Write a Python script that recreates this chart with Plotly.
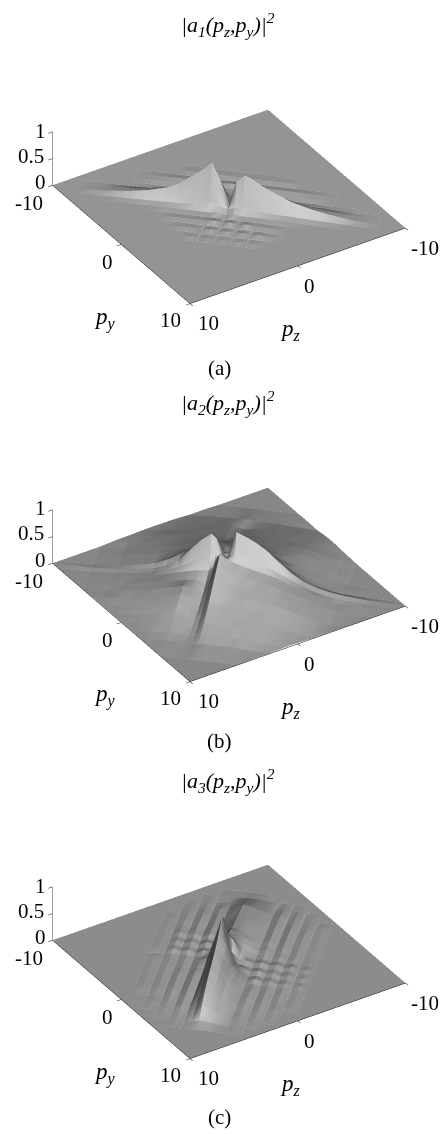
import numpy as np
import plotly.graph_objects as go

# Heights in percent. s runs along one diagonal, t along the other:
# p_y=(s+t)/sqrt2, p_z=(t-s)/sqrt2
a_s = [-14.2,-12,-10,-8,-6.5,-5,-4,-3,-2.7,-2,-1.35,-.7,0,.6,1.25,1.9,2.5,3.1,3.75,5,6.5,8,10,12,14.2]
a_t = [-14.2,-8,-6,-5,-4.2,-3.6,-3,-2.4,-1.8,-1.2,-.6,0,.6,1.2,1.8,2.4,3,3.6,4.2,4.8,5.4,6.5,8,14.2]
az = [0]*25
a_z = [
    az, az, az, az,
    [0,0,0,0,0,0,1,1,1,1,1,1,1,1,1,1,1,1,1,0,0,0,0,0,0],
    az,
    [0,0,0,0,1,2,2,2,2,2,2,3,4,3,2,2,2,2,2,2,1,0,0,0,0],
    [0,0,0,0,1,1,1,1,1,1,1,1,1,1,1,1,1,1,1,1,1,0,0,0,0],
    [0,0,0,0,0,0,0,0,1,1,2,2,1,2,2,2,1,1,0,0,0,0,0,0,0],
    [0,0,0,0,1,2,4,7,8,10,12,8,2,8,9,8,7,6,5,3,2,1,0,0,0],
    [0,0,1,5,9,15,23,34,38,46,56,35,4,35,43,40,34,29,24,16,10,6,1,0,0],
    [0,0,2,7,13,22,33,49,54,66,80,50,6,50,62,57,48,41,35,23,14,8,2,0,0],
    [0,0,0,1,2,3,4,6,7,8,10,8,3,7,8,7,6,5,4,3,2,1,0,0,0],
    [0,0,0,0,0,1,1,1,1,1,1,3,0,3,1,1,1,1,1,1,0,0,0,0,0],
    az,
    [0,0,0,0,0,0,1,1,1,1,1,3,0,3,0,3,1,1,1,0,0,0,0,0,0],
    az,
    [0,0,0,0,0,0,0,1,1,1,0,2,0,2,0,2,0,2,1,0,0,0,0,0,0],
    az,
    [0,0,0,0,0,0,0,0,0,1,0,1,0,1,0,1,0,1,0,0,0,0,0,0,0],
    az, az, az, az,
]

b_s = [-14.2,-11,-9,-8,-7,-6,-5,-4,-3,-2.2,-1.4,-1,-.5,0,.6,1.5,2.2,3,4,5,6,7,8,9,11,14.2]
b_t = [-14.2,-11,-9,-7.5,-6,-5,-4,-3,-2,-1,-.5,0,.5,1,2,3,4,5,6,7,8,9,11,14.2]
bz = [0]*26
b_z = [
    bz, bz,
    [0,0,0,0,0,0,1,2,3,3,4,5,6,5,4,3,3,2,1,0,0,0,0,0,0,0],
    [0,0,0,1,2,4,6,8,9,10,10,8,6,7,9,10,10,9,8,6,4,2,0,0,0,0],
    [0,0,1,3,5,8,11,14,16,17,17,15,14,15,16,17,17,16,14,12,8,4,1,0,0,0],
    [0,0,2,5,8,12,15,18,20,22,22,20,20,21,22,22,22,21,19,16,11,6,2,0,0,0],
    [0,0,3,6,10,14,18,22,25,27,28,27,28,28,28,28,27,26,23,19,13,7,2,0,0,0],
    [0,0,3,7,11,16,21,26,30,33,36,38,36,36,36,36,34,31,27,21,14,8,3,0,0,0],
    [0,0,4,8,12,17,23,29,35,42,50,52,44,42,48,48,44,38,30,23,15,9,3,0,0,0],
    [0,0,4,8,12,17,25,34,46,60,74,68,48,44,70,72,64,52,38,26,17,10,4,1,0,0],
    [0,0,4,8,12,17,27,40,56,72,86,78,52,50,88,84,76,62,44,30,19,11,5,1,0,0],
    [0,1,4,7,10,14,22,35,60,78,92,84,58,60,100,92,84,73,54,36,22,14,9,6,2,0],
    [0,0,3,6,9,13,20,28,40,50,60,56,60,58,70,62,56,50,40,30,20,12,7,4,1,0],
    [0,0,3,6,9,13,18,24,30,34,36,44,70,62,56,50,46,42,36,28,20,13,7,3,1,0],
    [0,0,3,5,9,13,18,22,26,28,26,36,60,54,50,44,42,38,34,27,20,13,7,3,0,0],
    [0,0,2,5,8,12,17,22,28,25,19,30,50,46,42,38,36,34,30,25,18,12,6,2,0,0],
    [0,0,2,4,6,10,14,19,25,22,14,22,40,38,35,32,31,29,26,22,16,10,5,1,0,0],
    [0,0,1,2,4,7,11,15,20,17,10,16,30,29,27,26,25,23,21,17,12,7,3,1,0,0],
    [0,0,0,1,2,4,7,11,14,12,7,10,22,22,21,20,19,18,16,12,8,4,1,0,0,0],
    [0,0,0,0,1,2,4,7,9,8,4,6,14,15,15,14,14,13,11,8,5,2,0,0,0,0],
    [0,0,0,0,0,1,2,3,5,4,2,3,8,9,9,9,8,8,6,4,2,1,0,0,0,0],
    [0,0,0,0,0,0,1,1,2,2,1,1,3,4,4,4,4,3,2,1,0,0,0,0,0,0],
    bz, bz,
]

c_s = [-14.2,-10,-8.5,-7.6,-7,-6.4,-5.8,-5.2,-4.6,-4,-3.4,-2.8,-2.2,-1.6,-1,-.4,.2,.8,1.4,2,2.6,3.2,3.8,4.4,5,5.6,6.2,6.8,7.4,8.5,10,14.2]
c_t = [-14.2,-10,-9,-8,-7,-6,-5,-4,-3,-2.4,-1.8,-1.2,-.6,0,.6,1.2,1.8,2.4,3,4,5,6,7,8,9,10,14.2]
cz = [0]*32
c_z = [
    cz, cz,
    [0,0,0,0,0,0,0,0,0,0,0,0,1,1,1,2,2,1,0,0,0,0,0,0,0,0,0,0,0,0,0,0],
    [0,0,0,0,0,0,0,0,0,0,1,0,1,2,6,9,8,5,3,0,2,0,1,0,0,0,0,0,0,0,0,0],
    [0,0,0,0,0,0,0,0,1,0,2,0,4,3,10,16,14,9,6,1,5,0,3,0,1,0,0,0,0,0,0,0],
    [0,0,0,0,0,0,0,0,2,0,4,0,5,4,12,18,16,11,7,2,6,0,4,0,2,0,1,0,0,0,0,0],
    [0,0,0,0,0,0,1,0,3,0,5,0,6,4,12,20,18,13,8,2,7,0,5,0,3,0,1,0,0,0,0,0],
    [0,0,0,0,0,0,1,0,3,0,5,0,7,4,13,22,20,14,8,2,7,0,5,0,3,0,1,0,0,0,0,0],
    [0,0,0,0,0,0,1,0,4,1,5,1,7,4,14,24,22,14,8,2,7,0,5,0,3,0,1,0,0,0,0,0],
    [0,0,0,0,0,0,1,0,3,0,4,0,5,3,16,28,24,15,8,2,6,0,5,0,3,0,1,0,0,0,0,0],
    [0,0,0,0,0,0,1,0,4,1,5,1,7,5,18,30,26,14,7,2,6,0,4,0,3,0,1,0,0,0,0,0],
    [0,0,0,0,0,0,1,0,3,0,4,0,5,4,20,34,28,12,5,1,5,0,4,0,3,0,1,0,0,0,0,0],
    [0,0,0,0,0,0,1,0,4,1,5,1,7,6,26,50,34,10,4,1,4,0,3,0,2,0,1,0,0,0,0,0],
    [0,0,0,0,0,0,0,0,2,0,3,0,4,8,40,80,20,6,6,2,6,2,5,1,4,0,2,0,0,0,0,0],
    [0,0,0,0,0,0,1,0,2,0,3,0,5,10,50,92,24,5,4,1,4,1,4,0,3,0,1,0,0,0,0,0],
    [0,0,0,0,0,0,1,0,2,0,3,0,5,8,44,84,50,16,7,2,6,2,5,1,4,0,2,0,0,0,0,0],
    [0,0,0,0,0,0,1,0,2,0,3,0,5,6,38,76,55,22,8,1,4,1,4,0,3,0,1,0,0,0,0,0],
    [0,0,0,0,0,0,1,0,2,0,4,0,6,5,32,70,52,26,10,2,6,2,5,1,4,0,2,0,0,0,0,0],
    [0,0,0,0,0,0,1,0,2,0,4,0,6,4,28,64,48,26,11,2,4,1,4,0,3,0,1,0,0,0,0,0],
    [0,0,0,0,0,0,1,0,2,0,4,0,6,3,24,56,44,24,11,2,5,0,4,0,3,0,1,0,0,0,0,0],
    [0,0,0,0,0,0,1,0,2,0,4,0,6,2,20,50,38,20,10,2,5,0,4,0,2,0,1,0,0,0,0,0],
    [0,0,0,0,0,0,0,0,1,0,3,0,5,1,16,42,30,16,9,2,4,0,3,0,2,0,0,0,0,0,0,0],
    [0,0,0,0,0,0,0,0,1,0,2,0,4,1,10,32,22,12,7,1,3,0,2,0,1,0,0,0,0,0,0,0],
    [0,0,0,0,0,0,0,0,0,0,1,0,2,0,5,20,14,8,4,1,2,0,1,0,0,0,0,0,0,0,0,0],
    [0,0,0,0,0,0,0,0,0,0,0,0,1,0,1,4,4,2,1,0,1,0,0,0,0,0,0,0,0,0,0,0],
    cz, cz,
]

panels = [
    (a_s, a_t, a_z, 'scene', 10, '1', '(a)', 368),
    (b_s, b_t, b_z, 'scene2', 387.5, '2', '(b)', 741),
    (c_s, c_t, c_z, 'scene3', 765, '3', '(c)', 1117),
]
tick_labels = [('1', 40, 131), ('0.5', 31, 156), ('0', 40, 182), ('-10', 29, 203), ('0', 107, 262), ('10', 170, 320),
               ('10', 208, 323), ('0', 309, 286), ('-10', 425, 248)]
W, H = 445, 1134
fig = go.Figure()
layout = {}
notes = []


def note(text, x, y, size=21):
    notes.append(dict(text=text, x=x / W, y=1 - y / H, xref='paper', yref='paper', showarrow=False,
                      xanchor='center', yanchor='middle',
                      font=dict(family='Liberation Serif', size=size, color='black')))


for s, t, vals, name, top, idx, cap, cap_y in panels:
    S, T = np.meshgrid(s, t)
    fig.add_trace(go.Surface(
        x=((T - S) / np.sqrt(2)).T, y=((S + T) / np.sqrt(2)).T, z=(np.array(vals) / 100).T,
        scene=name, showscale=False, colorscale=[[0, '#d0d0d0'], [1, '#d0d0d0']],
        lighting=dict(ambient=0.28, diffuse=0.72, specular=0.0, roughness=0.6, fresnel=0.0),
        lightposition=dict(x=5000, y=-27500, z=-100),
        contours=dict(x=dict(highlight=False), y=dict(highlight=False), z=dict(highlight=False)),
        hoverinfo='skip'))
    ax = dict(showbackground=False, showgrid=False, zeroline=False, showline=True, linecolor='black', linewidth=1,
              ticks='outside', ticklen=5, tickcolor='black', title='', showticklabels=False, showspikes=False)
    layout[name] = dict(
        domain=dict(x=[0.03, 1], y=[1 - (top + 340) / H, 1 - top / H]),
        xaxis=dict(ax, range=[-10, 10], tickvals=[-10, 0, 10]),
        yaxis=dict(ax, range=[-10, 10], tickvals=[-10, 0, 10]),
        zaxis=dict(ax, range=[0, 1], tickvals=[0, 0.5, 1]),
        aspectmode='manual', aspectratio=dict(x=1.504, y=1.504, z=0.376),
        camera=dict(projection=dict(type='orthographic'), eye=dict(x=0.9, y=1.41, z=1.1), up=dict(x=0, y=0, z=1)),
    )
    dy = top - 10
    for text, x, y in tick_labels:
        note(text, x, y + dy)
    note('<i>|a<sub>%s</sub>(p<sub>z</sub>,p<sub>y</sub>)|<sup>2</sup></i>' % idx, 228, 25 + dy, 22)
    note('<i>p<sub>y</sub></i>', 105, 318 + dy, 23)
    note('<i>p<sub>z</sub></i>', 290, 330 + dy, 23)
    note(cap, 219, cap_y, 21)

fig.update_layout(width=W, height=H, margin=dict(l=0, r=0, t=0, b=0), paper_bgcolor='white', showlegend=False,
                  annotations=notes, **layout)
fig.write_html("out.html", post_script="document.body.style.margin='0'", config=dict(displayModeBar=False))
